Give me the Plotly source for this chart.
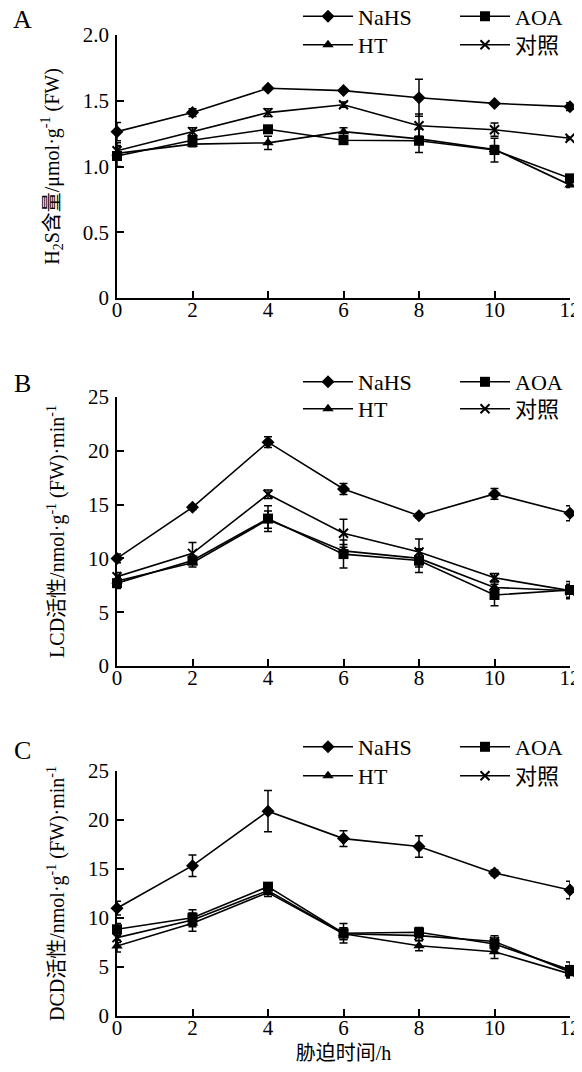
import plotly.graph_objects as go
from plotly.subplots import make_subplots

hours = [0, 2, 4, 6, 8, 10, 12]
x_ticks = [0, 2, 4, 6, 8, 10, 12]
series_names = ["NaHS", "AOA", "HT", "对照"]

# Panel A: H2S content
h2s_nahs = [1.265, 1.41, 1.595, 1.577, 1.523, 1.48, 1.455]
h2s_aoa = [1.08, 1.20, 1.283, 1.20, 1.196, 1.125, 0.91]
h2s_ht = [1.10, 1.17, 1.18, 1.265, 1.21, 1.13, 0.86]
h2s_ctrl = [1.12, 1.265, 1.41, 1.47, 1.31, 1.28, 1.215]
h2s_nahs_err = [0.07, 0.03, 0.01, 0.01, 0.14, 0.01, 0.03]
h2s_aoa_err = [0.08, 0.03, 0.02, 0.03, 0.09, 0.09, 0.02]
h2s_ht_err = [0.05, 0.02, 0.05, 0.03, 0.02, 0.03, 0.02]
h2s_ctrl_err = [0.06, 0.03, 0.03, 0.02, 0.09, 0.05, 0.01]

# Panel B: LCD activity
lcd_nahs = [10.0, 14.75, 20.8, 16.45, 13.97, 15.99, 14.19]
lcd_aoa = [7.7, 9.8, 13.7, 10.4, 9.8, 6.6, 7.06]
lcd_ht = [7.9, 9.6, 13.6, 10.7, 10.0, 7.3, 7.0]
lcd_ctrl = [8.3, 10.47, 15.96, 12.33, 10.6, 8.2, 7.0]
lcd_nahs_err = [0.4, 0.2, 0.5, 0.5, 0.2, 0.5, 0.7]
lcd_aoa_err = [0.5, 0.3, 1.2, 1.3, 1.1, 1.0, 0.8]
lcd_ht_err = [0.4, 0.4, 0.8, 0.6, 0.8, 0.6, 0.6]
lcd_ctrl_err = [0.4, 1.0, 0.4, 1.3, 1.2, 0.4, 0.3]

# Panel C: DCD activity
dcd_nahs = [11.0, 15.34, 20.9, 18.1, 17.3, 14.6, 12.86]
dcd_aoa = [8.85, 10.03, 13.2, 8.44, 8.54, 7.35, 4.7]
dcd_ht = [7.14, 9.46, 12.6, 8.4, 7.17, 6.56, 4.3]
dcd_ctrl = [8.0, 9.8, 12.8, 8.4, 8.2, 7.6, 4.5]
dcd_nahs_err = [0.7, 1.1, 2.1, 0.8, 1.1, 0.3, 0.9]
dcd_aoa_err = [0.6, 0.8, 0.4, 1.0, 0.5, 0.6, 0.8]
dcd_ht_err = [0.6, 0.8, 0.4, 0.6, 0.5, 0.7, 0.4]
dcd_ctrl_err = [0.5, 0.7, 0.4, 0.6, 0.5, 0.6, 0.5]

# page body has an 8px margin: the figure is drawn offset by OFF
OFF = 8
W, H = 582 - OFF, 1072 - 2 * OFF
ML = 117 - OFF
MR = W - (570 - OFF)
PW = W - ML - MR
FONT = "Liberation Serif, Times New Roman, Noto Sans CJK SC, serif"

fig = make_subplots(rows=3, cols=1)

symbols = {"NaHS": "diamond", "AOA": "square", "HT": "triangle-up", "对照": "x-thin"}
sizes = {"NaHS": 10, "AOA": 10, "HT": 10, "对照": 9}

panels = [
    (1, [h2s_nahs, h2s_aoa, h2s_ht, h2s_ctrl], [h2s_nahs_err, h2s_aoa_err, h2s_ht_err, h2s_ctrl_err]),
    (2, [lcd_nahs, lcd_aoa, lcd_ht, lcd_ctrl], [lcd_nahs_err, lcd_aoa_err, lcd_ht_err, lcd_ctrl_err]),
    (3, [dcd_nahs, dcd_aoa, dcd_ht, dcd_ctrl], [dcd_nahs_err, dcd_aoa_err, dcd_ht_err, dcd_ctrl_err]),
]

for row, vals, errs in panels:
    for i, name in enumerate(series_names):
        leg_idx = (row - 1) * 2 + (1 if i < 2 else 2)
        leg = "legend" if leg_idx == 1 else f"legend{leg_idx}"
        fig.add_trace(
            go.Scatter(
                x=hours, y=vals[i], name=name, mode="lines+markers",
                line=dict(color="black", width=1.6),
                marker=dict(symbol=symbols[name], size=sizes[name], color="black",
                            line=dict(color="black", width=2 if name == "对照" else 0)),
                error_y=dict(type="data", array=errs[i], color="black", thickness=1.5, width=4),
                legend=leg, showlegend=True, cliponaxis=False,
            ),
            row=row, col=1,
        )

def py(pix):
    return (H - (pix - OFF)) / H

def px(pix):
    return (pix - OFF - ML) / PW

domains = [(py(298), py(35)), (py(666), py(397)), (py(1016), py(771))]
ytitles = ["H<sub>2</sub>S含量/μmol·g<sup>-1</sup> (FW)",
           "LCD活性/nmol·g<sup>-1</sup> (FW)·min<sup>-1</sup>",
           "DCD活性/nmol·g<sup>-1</sup> (FW)·min<sup>-1</sup>"]
yranges = [[0, 2.0], [0, 25], [0, 25]]
ytickvals = [[0, 0.5, 1.0, 1.5, 2.0], [0, 5, 10, 15, 20, 25], [0, 5, 10, 15, 20, 25]]
yticktext = [["0", "0.5", "1.0", "1.5", "2.0"], ["0", "5", "10", "15", "20", "25"], ["0", "5", "10", "15", "20", "25"]]

axis_common = dict(showline=True, linecolor="black", linewidth=1.6, ticks="inside",
                   ticklen=7, tickwidth=1.5, tickcolor="black", showgrid=False,
                   zeroline=False, tickfont=dict(family=FONT, size=21, color="black"))

for r in range(1, 4):
    fig.update_xaxes(range=[0, 12], tickvals=x_ticks, row=r, col=1, ticklabelstandoff=-8,
                     ticklabeloverflow="allow", **axis_common)
    fig.update_yaxes(range=yranges[r - 1], tickvals=ytickvals[r - 1], ticktext=yticktext[r - 1],
                     domain=list(domains[r - 1]), row=r, col=1, ticklabelstandoff=2,
                     title=dict(text=ytitles[r - 1], font=dict(family=FONT, size=20, color="black"),
                                standoff=18),
                     **axis_common)

fig.update_xaxes(title=dict(text="胁迫时间/h", font=dict(family=FONT, size=20, color="black"),
                            standoff=12), row=3, col=1)

leg_rows = [16.5, 45, 382, 409, 747, 776]
legends = {}
for k, ypix in enumerate(leg_rows):
    key = "legend" if k == 0 else f"legend{k + 1}"
    legends[key] = dict(orientation="h", x=px(298), xanchor="left",
                        y=py(ypix), yanchor="middle", entrywidth=92, entrywidthmode="pixels",
                        itemwidth=50, font=dict(family=FONT, size=22, color="black"),
                        bgcolor="rgba(0,0,0,0)", tracegroupgap=0, itemclick=False)

annotations = []
for lab, ypix in [("A", 20), ("B", 383), ("C", 750)]:
    annotations.append(dict(text=lab, x=px(22), y=py(ypix), xref="paper", yref="paper",
                            showarrow=False, xanchor="center", yanchor="middle",
                            font=dict(family=FONT, size=26, color="black")))

fig.update_layout(
    width=W, height=H, margin=dict(l=ML, r=MR, t=0, b=0, autoexpand=False),
    paper_bgcolor="white", plot_bgcolor="white",
    font=dict(family=FONT, color="black"),
    annotations=annotations,
    **legends,
)

fig.write_html("out.html")
